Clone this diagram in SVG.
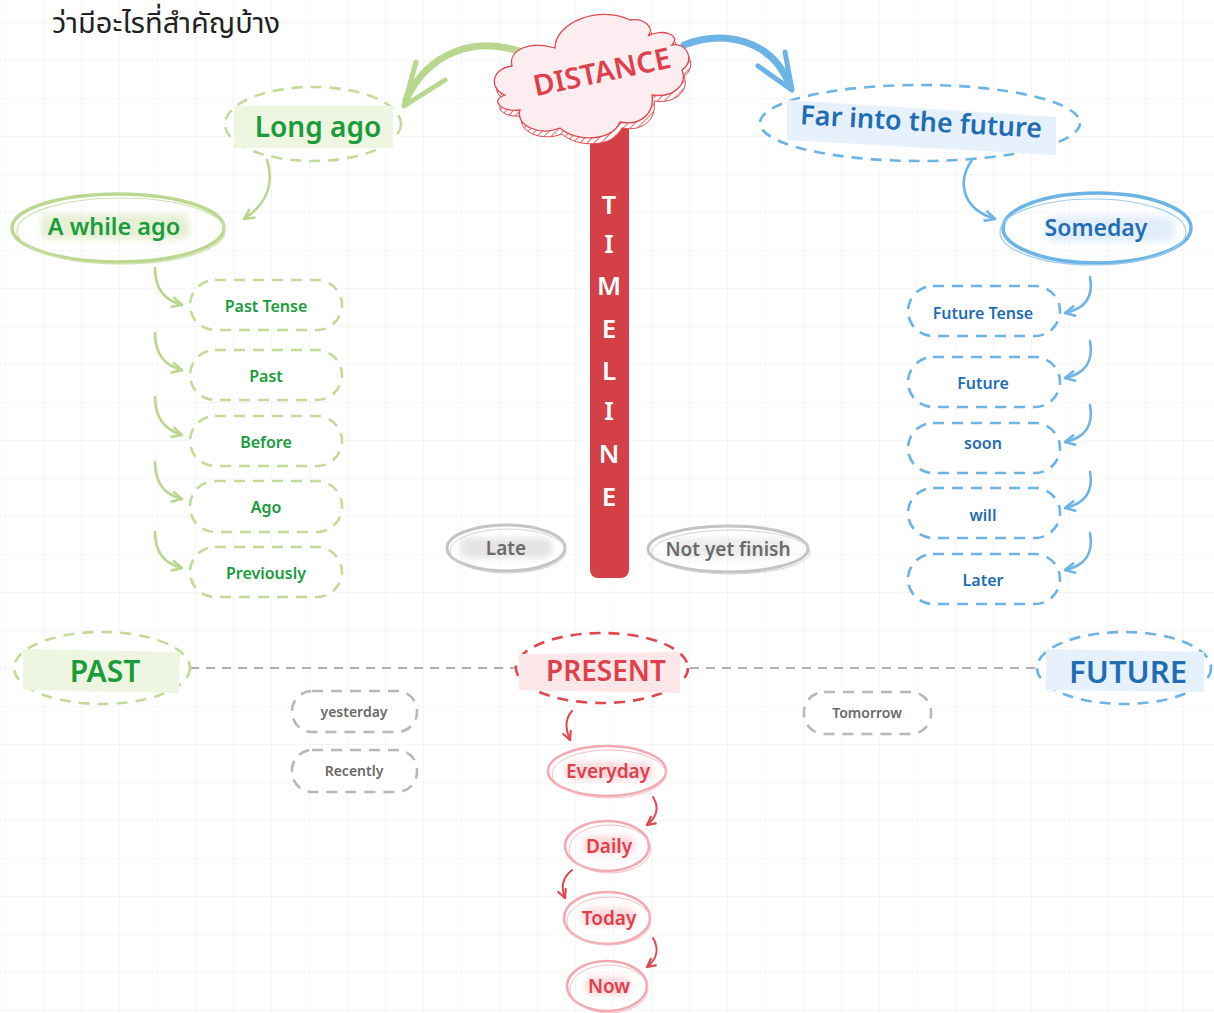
<svg xmlns="http://www.w3.org/2000/svg" width="1214" height="1013" viewBox="0 0 1214 1013">
<style>
.t{font-family:"Noto Sans","Open Sans","DejaVu Sans",sans-serif;font-weight:600;text-anchor:middle}
.g{fill:#1a9c3b}.b{fill:#1f6db5}.r{fill:#e0404a}.k{fill:#6a6a6a}
.dsh{fill:#fff;stroke-width:2.6;stroke-dasharray:11 8}
.sg{stroke:#c2dc98}.sb{stroke:#6cb4e6}.sk{stroke:#b8b8b8}.sr{stroke:#e0474f}
.arrG{fill:none;stroke:#b9d78e;stroke-width:2.6;stroke-linecap:round}
.arrB{fill:none;stroke:#6cb4e6;stroke-width:2.6;stroke-linecap:round}
.arrR{fill:none;stroke:#e0474f;stroke-width:2;stroke-linecap:round}
</style>
<defs>
<pattern id="grid" x="5" y="22" width="38" height="38" patternUnits="userSpaceOnUse">
<path d="M38 0H0V38" fill="none" stroke="#eeeeee" stroke-width="1.2"/>
</pattern>
<pattern id="hatch" width="5" height="5" patternUnits="userSpaceOnUse" patternTransform="rotate(45)">
<rect width="5" height="5" fill="#fff"/>
<line x1="0" y1="0" x2="0" y2="5" stroke="#e0474f" stroke-width="1.6"/>
</pattern>
<filter id="blur" x="-20%" y="-50%" width="140%" height="200%"><feGaussianBlur stdDeviation="3"/></filter>
<marker id="mG" viewBox="0 0 10 10" refX="9" refY="5" markerWidth="13" markerHeight="13" markerUnits="userSpaceOnUse" orient="auto"><path d="M1 1L9 5L1 9" fill="none" stroke="#b9d78e" stroke-width="2"/></marker>
<marker id="mB" viewBox="0 0 10 10" refX="9" refY="5" markerWidth="13" markerHeight="13" markerUnits="userSpaceOnUse" orient="auto"><path d="M1 1L9 5L1 9" fill="none" stroke="#6cb4e6" stroke-width="2"/></marker>
<marker id="mR" viewBox="0 0 10 10" refX="9" refY="5" markerWidth="11" markerHeight="11" markerUnits="userSpaceOnUse" orient="auto"><path d="M1 1L9 5L1 9" fill="none" stroke="#e0474f" stroke-width="2"/></marker>
</defs>
<rect width="1214" height="1013" fill="#fff"/>
<rect width="1214" height="1013" fill="url(#grid)"/>

<text x="52" y="33" font-family="'Noto Sans Thai','Noto Sans','DejaVu Sans',sans-serif" font-size="29" fill="#222">ว่ามีอะไรที่สำคัญบ้าง</text>

<g id="connectors">
<path d="M522 52C475 36 428 52 406 100" fill="none" stroke="#b9d78e" stroke-width="7" stroke-linecap="round"/>
<polyline points="416,62 404,106 445,80" fill="none" stroke="#b9d78e" stroke-width="5" stroke-linejoin="round" stroke-linecap="round"/>
<path d="M684 45C722 30 772 38 790 86" fill="none" stroke="#6cb4e6" stroke-width="7" stroke-linecap="round"/>
<polyline points="758,66 792,90 785,52" fill="none" stroke="#6cb4e6" stroke-width="5" stroke-linejoin="round" stroke-linecap="round"/>
<path d="M267 160C275 185 265 205 244 219" class="arrG" stroke-width="3" marker-end="url(#mG)"/>
<path d="M972 160C958 180 960 208 995 219" class="arrB" stroke-width="3" marker-end="url(#mB)"/>
<path d="M155 268C155 290 165 300 182 305" class="arrG" marker-end="url(#mG)"/>
<path d="M155 333C155 355 165 366 182 370" class="arrG" marker-end="url(#mG)"/>
<path d="M155 397C155 419 165 430 182 435" class="arrG" marker-end="url(#mG)"/>
<path d="M155 462C155 484 165 495 182 499" class="arrG" marker-end="url(#mG)"/>
<path d="M155 532C155 552 165 564 182 568" class="arrG" marker-end="url(#mG)"/>
<path d="M1090 277C1094 298 1084 309 1065 313" class="arrB" marker-end="url(#mB)"/>
<path d="M1090 341C1094 362 1084 374 1065 378" class="arrB" marker-end="url(#mB)"/>
<path d="M1090 405C1094 426 1084 438 1065 442" class="arrB" marker-end="url(#mB)"/>
<path d="M1090 472C1094 492 1084 504 1065 508" class="arrB" marker-end="url(#mB)"/>
<path d="M1090 533C1094 554 1084 566 1065 570" class="arrB" marker-end="url(#mB)"/>
<path d="M190 668H517M690 668H1038" fill="none" stroke="#b0b0b0" stroke-width="2.2" stroke-dasharray="9 7"/>
<path d="M572 711C564 720 566 730 570 740" class="arrR" marker-end="url(#mR)"/>
<path d="M653 797C660 808 656 818 647 825" class="arrR" marker-end="url(#mR)"/>
<path d="M572 870C562 878 561 888 565 898" class="arrR" marker-end="url(#mR)"/>
<path d="M653 938C660 950 656 960 647 967" class="arrR" marker-end="url(#mR)"/>
</g>

<g id="timeline">
<rect x="590" y="120" width="39" height="458" rx="8" fill="#d34045"/>
<g class="t" font-size="26" fill="#fff" font-weight="500">
<text x="609" y="214">T</text><text x="609" y="253">I</text><text x="609" y="295">M</text><text x="609" y="338">E</text>
<text x="609" y="380">L</text><text x="609" y="420">I</text><text x="609" y="463">N</text><text x="609" y="506">E</text>
</g>
</g>

<g id="distance">
<path transform="translate(2,6)" d="M505 95C488 88 492 68 512 66C508 50 530 40 555 48C555 22 600 5 630 20C645 18 655 28 648 36C662 28 682 35 672 45C688 42 695 62 682 70C688 86 672 98 652 95C655 114 640 126 620 122C612 142 575 142 560 128C540 136 515 126 520 110C500 112 490 100 505 95Z" fill="url(#hatch)" stroke="#e0474f" stroke-width="1"/>
<path d="M505 95C488 88 492 68 512 66C508 50 530 40 555 48C555 22 600 5 630 20C645 18 655 28 648 36C662 28 682 35 672 45C688 42 695 62 682 70C688 86 672 98 652 95C655 114 640 126 620 122C612 142 575 142 560 128C540 136 515 126 520 110C500 112 490 100 505 95Z" fill="#fcedf0" stroke="#e0474f" stroke-width="1.3"/>
<text class="t r" x="602" y="82" font-size="29" font-weight="700" fill="#d1333d" transform="rotate(-12 602 72)">DISTANCE</text>
</g>

<g id="long-ago">
<ellipse cx="313" cy="124" rx="88" ry="37" class="dsh sg"/>
<rect x="234" y="106" width="159" height="42" fill="#eef5e0"/>
<text class="t g" x="318" y="137" font-size="28">Long ago</text>
</g>

<g id="far-future">
<ellipse cx="920" cy="123" rx="160" ry="38" class="dsh sb"/>
<polygon points="787,100 1056,117 1056,155 787,140" fill="#e6f1fc"/>
<text class="t b" x="921" y="131" font-size="27" transform="rotate(3.2 921 125)">Far into the future</text>
</g>

<g id="a-while-ago">
<rect x="40" y="214" width="150" height="26" rx="10" fill="#e6f0d6" filter="url(#blur)"/>
<ellipse cx="118" cy="228" rx="106" ry="34" fill="none" stroke="#bcd88f" stroke-width="3.5"/>
<ellipse cx="121" cy="231" rx="104" ry="33" fill="none" stroke="#cfe3ae" stroke-width="1.2"/>
<text class="t g" x="114" y="235" font-size="23.5">A while ago</text>
</g>

<g id="someday">
<rect x="1045" y="216" width="130" height="26" rx="10" fill="#e2eefa" filter="url(#blur)"/>
<ellipse cx="1097" cy="228" rx="94" ry="35" fill="none" stroke="#6cb4e6" stroke-width="3.5"/>
<ellipse cx="1093" cy="232" rx="93" ry="33" fill="none" stroke="#9fcdef" stroke-width="1.2"/>
<text class="t b" x="1096" y="236" font-size="23">Someday</text>
</g>

<g id="past-tense"><rect x="190" y="280" width="152" height="50" rx="25" class="dsh sg"/><text class="t g" x="266" y="312" font-size="16">Past Tense</text></g>
<g id="past"><rect x="190" y="350" width="152" height="50" rx="25" class="dsh sg"/><text class="t g" x="266" y="382" font-size="16">Past</text></g>
<g id="before"><rect x="190" y="416" width="152" height="50" rx="25" class="dsh sg"/><text class="t g" x="266" y="448" font-size="16">Before</text></g>
<g id="ago"><rect x="190" y="481" width="152" height="51" rx="25" class="dsh sg"/><text class="t g" x="266" y="513" font-size="16">Ago</text></g>
<g id="previously"><rect x="190" y="547" width="152" height="50" rx="25" class="dsh sg"/><text class="t g" x="266" y="579" font-size="16">Previously</text></g>

<g id="future-tense"><rect x="908" y="286" width="152" height="50" rx="25" class="dsh sb"/><text class="t b" x="983" y="319" font-size="16">Future Tense</text></g>
<g id="future-word"><rect x="908" y="357" width="152" height="50" rx="25" class="dsh sb"/><text class="t b" x="983" y="389" font-size="16">Future</text></g>
<g id="soon"><rect x="908" y="423" width="152" height="50" rx="25" class="dsh sb"/><text class="t b" x="983" y="449" font-size="16">soon</text></g>
<g id="will"><rect x="908" y="488" width="152" height="50" rx="25" class="dsh sb"/><text class="t b" x="983" y="521" font-size="16">will</text></g>
<g id="later"><rect x="908" y="554" width="152" height="50" rx="25" class="dsh sb"/><text class="t b" x="983" y="586" font-size="16">Later</text></g>

<g id="late">
<rect x="460" y="538" width="92" height="20" rx="8" fill="#e4e4e4" filter="url(#blur)"/>
<ellipse cx="506" cy="548" rx="59" ry="23" fill="none" stroke="#c4c4c4" stroke-width="3"/>
<ellipse cx="508" cy="551" rx="58" ry="22" fill="none" stroke="#d4d4d4" stroke-width="1"/>
<text class="t k" x="506" y="555" font-size="19">Late</text>
</g>
<g id="not-yet-finish">
<rect x="670" y="538" width="120" height="20" rx="8" fill="#ececec" filter="url(#blur)"/>
<ellipse cx="728" cy="549" rx="80" ry="23" fill="none" stroke="#c4c4c4" stroke-width="3"/>
<ellipse cx="731" cy="552" rx="79" ry="22" fill="none" stroke="#d4d4d4" stroke-width="1"/>
<text class="t k" x="728" y="556" font-size="19">Not yet finish</text>
</g>

<g id="past-main">
<ellipse cx="102" cy="668" rx="88" ry="36" class="dsh sg"/>
<polygon points="23,649 180,652 179,693 23,690" fill="#eef5e0"/>
<text class="t g" x="105" y="682" font-size="30">PAST</text>
</g>
<g id="present">
<ellipse cx="602" cy="668" rx="86" ry="35" class="dsh sr"/>
<polygon points="519,654 680,652 680,693 519,690" fill="#fde7e8"/>
<text class="t r" x="606" y="681" font-size="28">PRESENT</text>
</g>
<g id="future-main">
<ellipse cx="1124" cy="668" rx="87" ry="36" class="dsh sb"/>
<polygon points="1046,649 1204,652 1204,692 1046,690" fill="#e6f1fc"/>
<text class="t b" x="1128" y="683" font-size="31">FUTURE</text>
</g>

<g id="yesterday"><rect x="292" y="691" width="125" height="41" rx="20" class="dsh sk" stroke-width="2.2"/><text class="t k" x="354" y="717" font-size="14">yesterday</text></g>
<g id="recently"><rect x="292" y="750" width="125" height="42" rx="20" class="dsh sk" stroke-width="2.2"/><text class="t k" x="354" y="776" font-size="14">Recently</text></g>
<g id="tomorrow"><rect x="804" y="692" width="127" height="42" rx="20" class="dsh sk" stroke-width="2.2"/><text class="t k" x="867" y="718" font-size="14">Tomorrow</text></g>

<g id="everyday">
<rect x="565" y="762" width="88" height="18" rx="8" fill="#fbdadd" filter="url(#blur)"/>
<ellipse cx="607" cy="771" rx="59" ry="25" fill="none" stroke="#f2a9b0" stroke-width="2.6"/>
<ellipse cx="609" cy="774" rx="57" ry="24" fill="none" stroke="#f5c0c5" stroke-width="1"/>
<text class="t r" x="608" y="778" font-size="19">Everyday</text>
</g>
<g id="daily">
<rect x="583" y="836" width="52" height="18" rx="8" fill="#fbdadd" filter="url(#blur)"/>
<ellipse cx="607" cy="846" rx="42" ry="25" fill="none" stroke="#f2a9b0" stroke-width="2.6"/>
<ellipse cx="610" cy="849" rx="41" ry="24" fill="none" stroke="#f5c0c5" stroke-width="1"/>
<text class="t r" x="609" y="853" font-size="19">Daily</text>
</g>
<g id="today">
<rect x="582" y="908" width="54" height="18" rx="8" fill="#fbdadd" filter="url(#blur)"/>
<ellipse cx="607" cy="918" rx="43" ry="26" fill="none" stroke="#f2a9b0" stroke-width="2.6"/>
<ellipse cx="609" cy="921" rx="42" ry="24" fill="none" stroke="#f5c0c5" stroke-width="1"/>
<text class="t r" x="609" y="925" font-size="19">Today</text>
</g>
<g id="now">
<rect x="585" y="977" width="46" height="18" rx="8" fill="#fbdadd" filter="url(#blur)"/>
<ellipse cx="607" cy="986" rx="40" ry="25" fill="none" stroke="#f2a9b0" stroke-width="2.6"/>
<ellipse cx="609" cy="989" rx="39" ry="24" fill="none" stroke="#f5c0c5" stroke-width="1"/>
<text class="t r" x="609" y="993" font-size="19">Now</text>
</g>
</svg>
